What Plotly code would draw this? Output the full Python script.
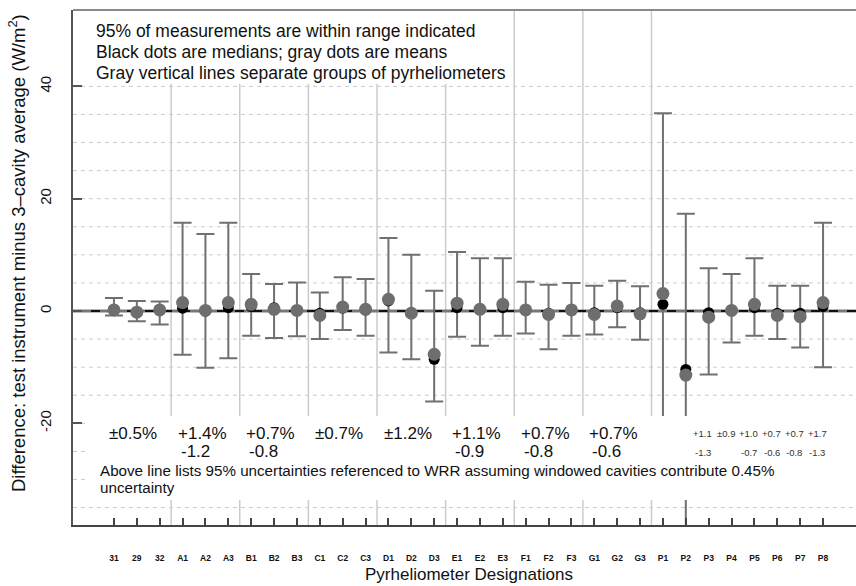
import plotly.graph_objects as go

# ---------------- data ----------------
labels = ["31", "29", "32", "A1", "A2", "A3", "B1", "B2", "B3", "C1", "C2", "C3",
          "D1", "D2", "D3", "E1", "E2", "E3", "F1", "F2", "F3", "G1", "G2", "G3",
          "P1", "P2", "P3", "P4", "P5", "P6", "P7", "P8"]
upper = [2.3, 1.8, 1.7, 15.7, 13.7, 15.7, 6.6, 4.8, 5.1, 3.3, 6.0, 5.7,
         13.0, 10.0, 3.6, 10.5, 9.4, 9.4, 5.2, 4.7, 5.0, 4.5, 5.4, 4.4,
         35.2, 17.3, 7.6, 6.6, 9.4, 4.5, 4.5, 15.7]
lower = [-0.8, -1.8, -2.4, -7.8, -10.1, -8.4, -4.4, -4.8, -4.5, -5.0, -3.4, -4.4,
         -7.4, -8.6, -16.1, -4.6, -6.2, -4.4, -4.0, -6.8, -4.4, -4.2, -2.9, -5.1,
         -25.0, -45.0, -11.3, -5.6, -4.4, -5.0, -6.5, -10.0]
means = [0.2, -0.2, 0.2, 1.5, 0.1, 1.5, 1.2, 0.3, 0.1, -0.8, 0.7, 0.3,
         2.1, -0.4, -7.7, 1.4, 0.3, 1.2, 0.2, -0.6, 0.2, -0.6, 0.9, -0.5,
         3.1, -11.4, -1.1, 0.1, 1.2, -0.8, -1.0, 1.5]
medians = [0.2, -0.2, 0.2, 0.5, 0.0, 0.6, 0.8, 0.6, 0.1, -0.4, 0.5, 0.2,
           1.8, -0.3, -8.6, 0.6, 0.3, 0.6, 0.2, -0.4, 0.1, -0.3, 0.6, -0.3,
           1.2, -10.4, -0.3, 0.1, 0.6, -0.4, -0.4, 0.8]

group_unc_plus = ["±0.5%", "+1.4%", "+0.7%", "±0.7%", "±1.2%", "+1.1%", "+0.7%", "+0.7%"]
group_unc_minus = ["", "-1.2", "-0.8", "", "", "-0.9", "-0.8", "-0.6"]
p_labels = ["P3", "P4", "P5", "P6", "P7", "P8"]
p_unc_plus = ["+1.1", "±0.9", "+1.0", "+0.7", "+0.7", "+1.7"]
p_unc_minus = ["-1.3", "", "-0.7", "-0.6", "-0.8", "-1.3"]

header_lines = ["95% of measurements are within range indicated",
                "Black dots are medians; gray dots are means",
                "Gray vertical lines separate groups of pyrheliometers"]
note_lines = ["Above line lists 95% uncertainties referenced to WRR assuming windowed cavities "
              "contribute 0.45%",
              "uncertainty"]
group_breaks = [2.5, 5.5, 8.5, 11.5, 14.5, 17.5, 20.5, 23.5]
grid_values = list(range(-35, 45, 5))
y_ticks = [-20, 0, 20, 40]

# ---------------- figure ----------------
FONT = "Liberation Sans, Arial, Helvetica, sans-serif"
W, H = 856, 586
ML, MR, MT, MB = 73, 0, 10, 61
XR = [-1.79, 32.44]
YR = [-38.1, 53.6]

x = list(range(len(labels)))
err_plus = [u - m for u, m in zip(upper, means)]
err_minus = [m - l for m, l in zip(means, lower)]

fig = go.Figure()
fig.add_trace(go.Scatter(
    x=x, y=means, mode="markers", marker=dict(size=1, color="rgba(0,0,0,0)"),
    error_y=dict(type="data", symmetric=False, array=err_plus, arrayminus=err_minus,
                 color="#707070", thickness=2, width=9),
    showlegend=False, hoverinfo="skip"))
fig.add_trace(go.Scatter(
    x=x, y=medians, mode="markers", marker=dict(size=11, color="#000000"),
    showlegend=False))
fig.add_trace(go.Scatter(
    x=x, y=means, mode="markers", marker=dict(size=13, color="#6e6e6e"),
    showlegend=False))

shapes = []
for g in grid_values:
    shapes.append(dict(type="line", xref="paper", x0=0, x1=1, yref="y", y0=g, y1=g,
                       line=dict(color="#cccccc", width=1, dash="4px,4px"), layer="below"))
for b in group_breaks:
    shapes.append(dict(type="line", xref="x", x0=b, x1=b, yref="paper", y0=0, y1=1,
                       line=dict(color="#cbcbcb", width=1.5), layer="below"))
shapes.append(dict(type="line", xref="paper", x0=0, x1=1, yref="y", y0=0, y1=0,
                   line=dict(color="#777777", width=3), layer="below"))
shapes.append(dict(type="line", xref="paper", x0=0, x1=1, yref="y", y0=0, y1=0,
                   line=dict(color="#111111", width=2, dash="dash"), layer="below"))


def px_to_xd(px):
    return XR[0] + (px - ML) / (W - ML - MR) * (XR[1] - XR[0])


def py_to_yd(py):
    return YR[1] - (py - MT) / (H - MT - MB) * (YR[1] - YR[0])


shapes.append(dict(type="rect", xref="x", yref="y", x0=px_to_xd(89), x1=px_to_xd(860),
                   y0=py_to_yd(500), y1=py_to_yd(416),
                   fillcolor="white", line=dict(width=0), layer="above"))
shapes.append(dict(type="rect", xref="x", yref="y", x0=px_to_xd(89), x1=px_to_xd(512),
                   y0=py_to_yd(84), y1=py_to_yd(11),
                   fillcolor="white", line=dict(width=0), layer="above"))
shapes.append(dict(type="line", xref="paper", x0=0, x1=1, yref="paper", y0=1, y1=1,
                   line=dict(color="#8a8a8a", width=2), layer="above"))

annotations = []
for i, t in enumerate(header_lines):
    annotations.append(dict(x=px_to_xd(94), y=py_to_yd(31 + 21 * i), xref="x", yref="y",
                            text=t, showarrow=False, xanchor="left", yanchor="middle",
                            font=dict(family=FONT, size=17.5, color="#111")))
for gi, (tp, tm) in enumerate(zip(group_unc_plus, group_unc_minus)):
    cx = 3 * gi + 1 - 0.15
    annotations.append(dict(x=cx, y=py_to_yd(433), xref="x", yref="y", text=tp,
                            showarrow=False, xanchor="center", yanchor="middle",
                            font=dict(family=FONT, size=17, color="#111")))
    if tm:
        annotations.append(dict(x=cx - 0.3, y=py_to_yd(451), xref="x", yref="y", text=tm,
                                showarrow=False, xanchor="center", yanchor="middle",
                                font=dict(family=FONT, size=17, color="#111")))
for lab, tp, tm in zip(p_labels, p_unc_plus, p_unc_minus):
    cx = labels.index(lab) - 0.25
    annotations.append(dict(x=cx, y=py_to_yd(433), xref="x", yref="y", text=tp,
                            showarrow=False, xanchor="center", yanchor="middle",
                            font=dict(family=FONT, size=9.5, color="#333")))
    if tm:
        annotations.append(dict(x=cx, y=py_to_yd(452), xref="x", yref="y", text=tm,
                                showarrow=False, xanchor="center", yanchor="middle",
                                font=dict(family=FONT, size=9.5, color="#333")))
for i, t in enumerate(note_lines):
    annotations.append(dict(x=px_to_xd(98), y=py_to_yd(470 + 17 * i), xref="x", yref="y",
                            text=t, showarrow=False, xanchor="left", yanchor="middle",
                            font=dict(family=FONT, size=15.2, color="#111")))
annotations.append(dict(x=(17 - ML) / (W - ML - MR), y=(H - MB - 253) / (H - MT - MB),
                        xref="paper", yref="paper",
                        text="Difference: test instrument minus 3\u2013cavity average (W/m<sup>2</sup>)",
                        textangle=-90, showarrow=False, xanchor="center", yanchor="middle",
                        font=dict(family=FONT, size=18.5, color="#111")))
annotations.append(dict(x=(469 - ML) / (W - ML - MR), y=-(586 - (H - MB)) / (H - MT - MB),
                        xref="paper", yref="paper", text="Pyrheliometer Designations",
                        showarrow=False, xanchor="center", yanchor="bottom",
                        font=dict(family=FONT, size=17, color="#111")))

fig.update_layout(
    width=W, height=H, margin=dict(l=ML, r=MR, t=MT, b=MB, pad=0),
    paper_bgcolor="white", plot_bgcolor="white",
    shapes=shapes, annotations=annotations, showlegend=False,
    font=dict(family=FONT, color="#111"),
    xaxis=dict(range=XR, tickmode="array", tickvals=x, ticktext=labels,
               showgrid=False, zeroline=False, showline=True, linecolor="#444", linewidth=2,
               ticks="inside", ticklen=7, tickwidth=1.5, tickcolor="#444",
               tickfont=dict(family=FONT, size=8.5, color="#111", weight="bold"),
               ticklabelstandoff=24, tickangle=0),
    yaxis=dict(range=YR, tickmode="array", tickvals=y_ticks, ticktext=[str(v) for v in y_ticks],
               showgrid=False, zeroline=False, showline=True, linecolor="#555", linewidth=2,
               ticks="inside", ticklen=9, tickwidth=1.5, tickcolor="#555",
               tickangle=-90, tickfont=dict(family=FONT, size=15, color="#111"),
               ticklabelstandoff=14),
)

fig.write_html("out.html")
